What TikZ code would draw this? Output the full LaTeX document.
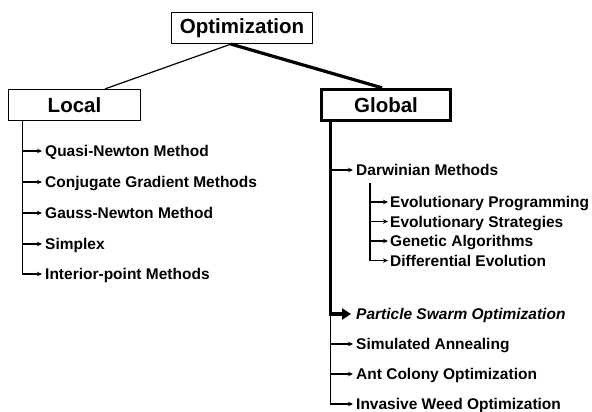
\documentclass[tikz,border=0pt]{standalone}
\usepackage{fontspec}
\setmainfont{Liberation Sans}
\usetikzlibrary{arrows.meta}
\begin{document}
\begin{tikzpicture}[x=1pt,y=-1pt,
  topbox/.style={draw,line width=1.2pt,inner sep=0pt,font=\bfseries\fontsize{20.5}{24}\selectfont},
  item/.style={anchor=west,inner sep=0pt,text height=11pt,text depth=0pt,font=\bfseries\fontsize{15.5}{18}\selectfont},
  thinline/.style={line width=1.2pt},
  thickline/.style={line width=3.2pt},
  arr/.style={line width=1.2pt,-{Stealth[length=5pt,width=4.5pt]}},
  bigarr/.style={line width=3.4pt,line join=miter,-{Triangle[length=9pt,width=11pt]}}]
\useasboundingbox (0,0) rectangle (592,412);
% boxes
\node[topbox,minimum width=141pt,minimum height=31pt] (opt) at (242,28) {Optimization};
\node[topbox,minimum width=132pt,minimum height=31pt] (local) at (74.5,105) {Local};
\node[topbox,line width=3.4pt,minimum width=129pt,minimum height=31pt] (global) at (386,105) {Global};
% connectors
\draw[thinline] ([xshift=-11pt]opt.south) -- ([xshift=30.5pt]local.north);
\draw[thickline] ([xshift=-11pt]opt.south) -- ([xshift=-4pt]global.north);
% local items
\coordinate (lt) at ([xshift=14.5pt]local.south west);
\node[item] (qn) at (45,151) {Quasi-Newton Method};
\node[item] (cg) at (45,182) {Conjugate Gradient Methods};
\node[item] (gn) at (45,213) {Gauss-Newton Method};
\node[item] (sx) at (45,244) {Simplex};
\node[item] (ip) at (45,274) {Interior-point Methods};
\foreach \n in {qn,cg,gn,sx,ip}
  \draw[arr] (lt) |- ([xshift=-3pt]\n.west);
% global items
\coordinate (gt) at ([xshift=10.5pt]global.south west);
\node[item] (dm) at (356,170) {Darwinian Methods};
\node[item] (ep) at (390,202) {Evolutionary Programming};
\node[item] (es) at (390,221.5) {Evolutionary Strategies};
\node[item] (ga) at (390,241) {Genetic Algorithms};
\node[item] (de) at (390,260.5) {Differential Evolution};
\node[item,font=\bfseries\itshape\fontsize{15.5}{18}\selectfont] (pso) at (356,314) {Particle Swarm Optimization};
\node[item] (sa) at (356,344) {Simulated Annealing};
\node[item] (aco) at (356,374) {Ant Colony Optimization};
\node[item] (iwo) at (356,404) {Invasive Weed Optimization};
\foreach \n in {dm,sa,aco,iwo}
  \draw[arr] (gt) |- ([xshift=-3pt]\n.west);
\draw[bigarr] (gt) |- ([xshift=-5pt]pso.west);
\coordinate (dv) at (370,183);
\foreach \n in {ep,es,ga,de}
  \draw[arr] (dv) |- ([xshift=-2pt]\n.west);
\end{tikzpicture}
\end{document}
